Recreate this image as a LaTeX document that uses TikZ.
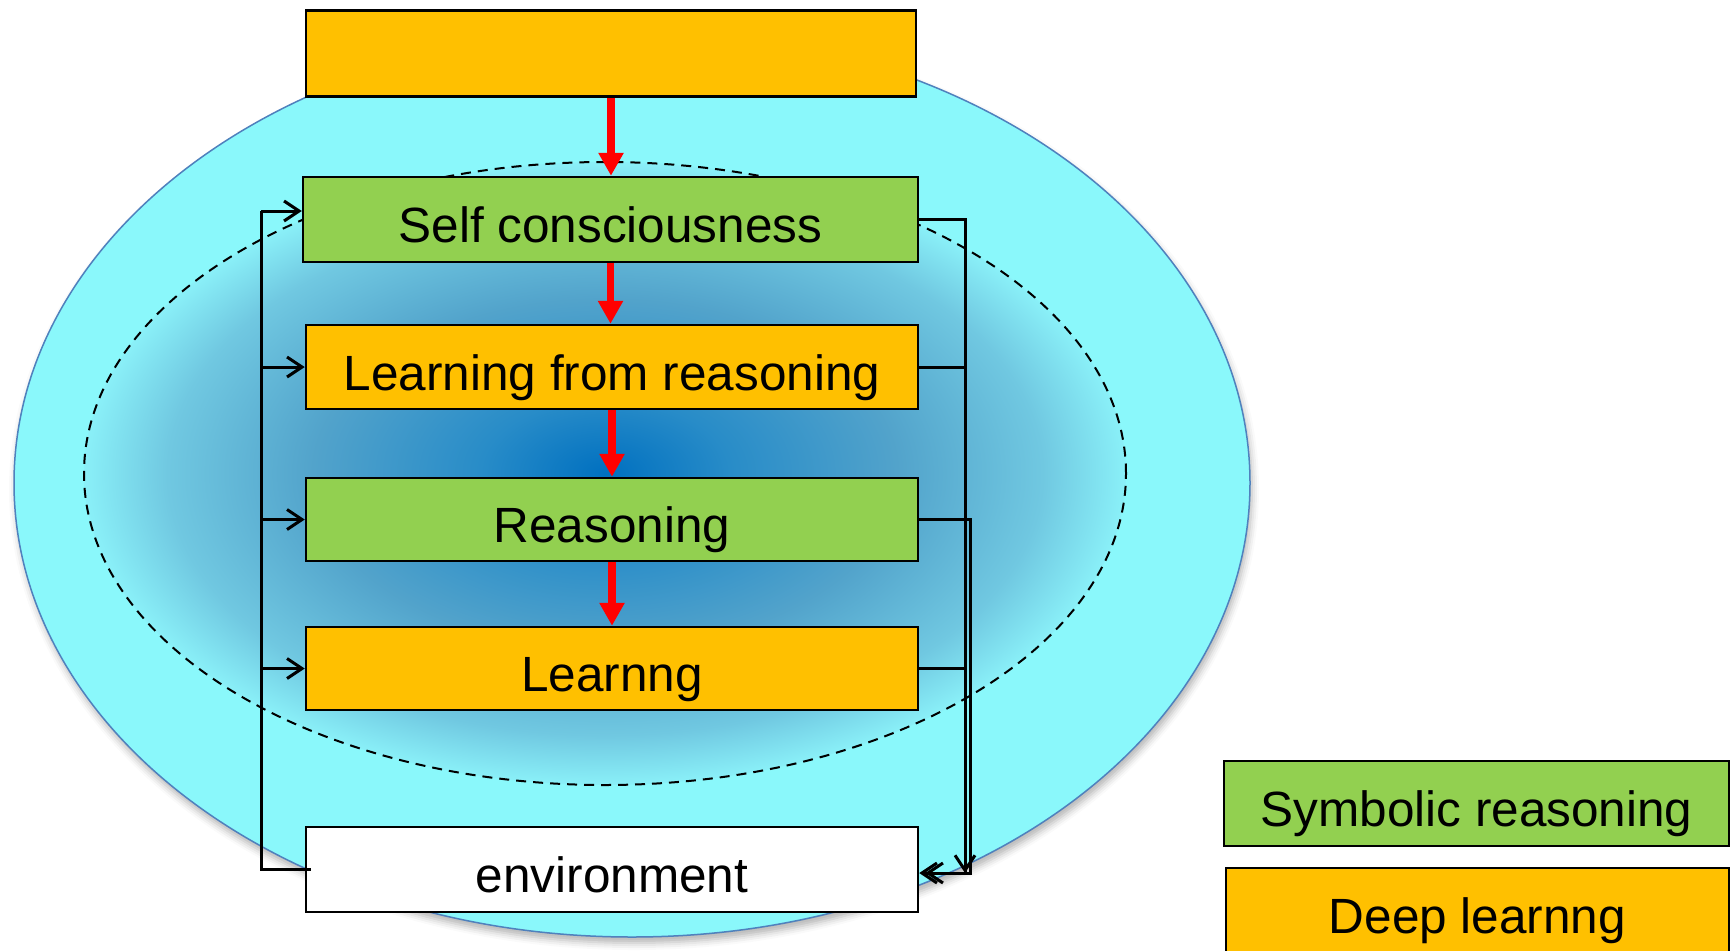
\documentclass[tikz,border=0pt]{standalone}
\usepackage{fontspec}
\setmainfont{Liberation Sans}
\usetikzlibrary{arrows.meta,shadows.blur}
\definecolor{cyanfill}{RGB}{138,248,251}
\definecolor{rimblue}{RGB}{79,129,189}
\definecolor{boxgreen}{RGB}{146,208,80}
\definecolor{boxorange}{RGB}{255,192,0}
\definecolor{gA}{RGB}{0,112,192}
\definecolor{gB}{RGB}{40,140,200}
\definecolor{gC}{RGB}{82,163,203}
\definecolor{gD}{RGB}{112,200,225}
\definecolor{gE}{RGB}{138,240,248}
\pgfdeclareradialshading{glow}{\pgfpoint{0bp}{0bp}}{color(0bp)=(gA); color(6bp)=(gB); color(14bp)=(gC); color(21bp)=(gD); color(25bp)=(gE); color(50bp)=(gE)}
\begin{document}
\begin{tikzpicture}[x=1pt,y=-1pt,
  box/.style={draw=black,line width=2.5pt,minimum width=612pt,minimum height=84pt,inner sep=0pt,
    text height=46pt,text depth=0pt,font=\fontsize{49.5}{58}\selectfont},
  redarrow/.style={draw=red,line width=7.5pt,-{Triangle[length=23pt,width=24pt]}},
  fb/.style={draw=black,line width=3pt},
  fbarrow/.style={fb,-{Straight Barb[length=15pt,width=20pt]}}]
\useasboundingbox (0,0) rectangle (1734,950);

% outer ellipse
\filldraw[fill=cyanfill,draw=rimblue,line width=1.5pt,
  blur shadow={shadow xshift=2pt,shadow yshift=-6pt,shadow blur radius=7pt,shadow opacity=30}]
  (632,483) ellipse [x radius=618pt,y radius=454pt];
% inner glowing ellipse
\shade[shading=glow] (605,473.5) ellipse [x radius=521pt,y radius=311.5pt];
\draw[line width=2pt,dash pattern=on 10pt off 7pt] (605,473.5) ellipse [x radius=521pt,y radius=311.5pt];

% boxes
\node[box,fill=boxorange,minimum width=610pt,minimum height=86pt] (top) at (611,53.5) {};
\node[box,fill=boxgreen,minimum width=615pt,minimum height=85pt] (sc) at (610.5,219.5) {Self consciousness};
\node[box,fill=boxorange] (lfr) at (612,367) {Learning from reasoning};
\node[box,fill=boxgreen,minimum height=83pt] (rs) at (612,519.5) {Reasoning};
\node[box,fill=boxorange,minimum height=83pt] (ln) at (612,668.5) {Learnng};
\node[box,fill=white,minimum height=85pt] (env) at (612,869.5) {environment};

% legend
\node[box,fill=boxgreen,minimum width=505pt,minimum height=85pt] (lg1) at (1476.5,803.5) {Symbolic reasoning};
\node[box,fill=boxorange,minimum width=503pt,minimum height=85pt] (lg2) at (1477.5,910.5) {Deep learnng};

% red arrows
\draw[redarrow] (top.south) -- (top.south |- sc.north);
\draw[redarrow] (sc.south) -- (sc.south |- lfr.north);
\draw[redarrow] (lfr.south) -- (rs.north);
\draw[redarrow] (rs.south) -- (ln.north);

% left feedback
\coordinate (LT) at (261,211);
\coordinate (LB) at (261,869.5);
\draw[fb] ([xshift=6pt]env.west) -- (LB) -- (LT);
\draw[fbarrow] (LT) -- (LT -| sc.west);
\draw[fbarrow] (LT |- lfr.west) -- (lfr.west);
\draw[fbarrow] (LT |- rs.west) -- (rs.west);
\draw[fbarrow] (LT |- ln.west) -- (ln.west);

% right feedback
\coordinate (R1) at (965,873);
\coordinate (R2) at (970,873);
\draw[fbarrow] (sc.east) -| (R1) -- (R1 -| env.east);
\draw[fb] (lfr.east) -- (lfr.east -| R1);
\draw[fbarrow] (rs.east) -| (R2) -- ([xshift=6pt]R2 -| env.east);
\draw[fbarrow] (ln.east) -| (R1);
\end{tikzpicture}
\end{document}
